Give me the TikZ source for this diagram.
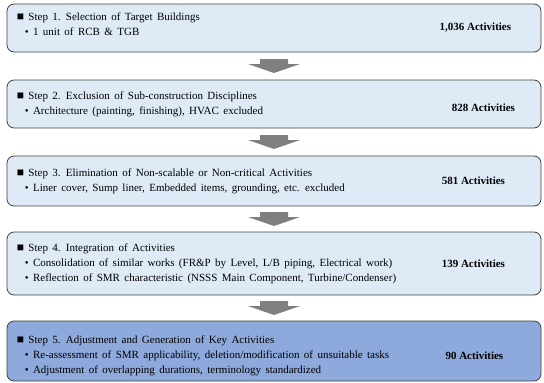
\documentclass[tikz,border=0pt]{standalone}
\usepackage{fontspec}
\setmainfont{Liberation Serif}
\usepackage{xcolor}
\usetikzlibrary{calc}
\definecolor{stepfill}{RGB}{222,235,247}
\definecolor{lastfill}{RGB}{142,169,219}
\definecolor{stepline}{RGB}{64,64,64}
\definecolor{arrowgray}{RGB}{127,127,127}
\newcommand\stepfont{\fontsize{11}{15}\selectfont\spaceskip=4.4pt plus 1pt minus 1pt\relax}

\begin{document}
\begin{tikzpicture}[x=1pt,y=-1pt,
  stepbox/.style={draw=stepline,line width=.8pt,rounded corners=7pt,fill=stepfill,minimum width=534pt},
  steptext/.style={anchor=west,align=left,inner sep=0pt,font=\stepfont},
  count/.style={font=\fontsize{11}{13}\selectfont\bfseries},
  downarrow/.style={fill=arrowgray}]
\useasboundingbox (0,0) rectangle (544,383);
% step boxes
\node[stepbox,minimum height=48pt] (s1) at (274,28) {};
\node[stepbox,minimum height=48pt] (s2) at (274,104) {};
\node[stepbox,minimum height=50pt] (s3) at (274,181) {};
\node[stepbox,minimum height=63pt] (s4) at (274,263.5) {};
\node[stepbox,minimum height=60pt,fill=lastfill] (s5) at (274,351) {};
% texts
\node[steptext] (t1) at ([xshift=10pt,yshift=4pt]s1.west) {{\large ■} Step 1. Selection of Target Buildings\\
  \hspace*{8pt}• 1 unit of RCB \& TGB};
\node[steptext] (t2) at ([xshift=10pt]s2.west) {{\large ■} Step 2. Exclusion of Sub-construction Disciplines\\
  \hspace*{8pt}• Architecture (painting, finishing), HVAC excluded};
\node[steptext] (t3) at ([xshift=10pt]s3.west) {{\large ■} Step 3. Elimination of Non-scalable or Non-critical Activities\\
  \hspace*{8pt}• Liner cover, Sump liner, Embedded items, grounding, etc. excluded};
\node[steptext] (t4) at ([xshift=10pt]s4.west) {{\large ■} Step 4. Integration of Activities\\
  \hspace*{8pt}• Consolidation of similar works (FR\&P by Level, L/B piping, Electrical work)\\
  \hspace*{8pt}• Reflection of SMR characteristic (NSSS Main Component, Turbine/Condenser)};
\node[steptext] (t5) at ([xshift=10pt,yshift=-5pt]s5.west) {{\large ■} Step 5. Adjustment and Generation of Key Activities\\
  \hspace*{8pt}• Re-assessment of SMR applicability, deletion/modification of unsuitable tasks\\
  \hspace*{8pt}• Adjustment of overlapping durations, terminology standardized};
% activity counts
\node[count] (c1) at ([xshift=-66pt]s1.east) {1,036 Activities};
\node[count] (c2) at ([xshift=-58pt,yshift=-4pt]s2.east) {828 Activities};
\node[count] (c3) at ([xshift=-68pt]s3.east) {581 Activities};
\node[count] (c4) at ([xshift=-68pt]s4.east) {139 Activities};
\node[count] (c5) at ([xshift=-67pt,yshift=-5pt]s5.east) {90 Activities};
% arrows between boxes
\foreach \i/\j in {1/2,2/3,3/4,4/5}{
  \coordinate (a\i) at ($(s\i.south)!.5!(s\j.north)$);
  \fill[downarrow] ([shift={(-14,-7)}]a\i) -- ++(28,0) -- ++(0,5) -- ++(12,0)
    -- ++(-26,9) -- ++(-26,-9) -- ++(12,0) -- cycle;
}
\end{tikzpicture}
\end{document}
